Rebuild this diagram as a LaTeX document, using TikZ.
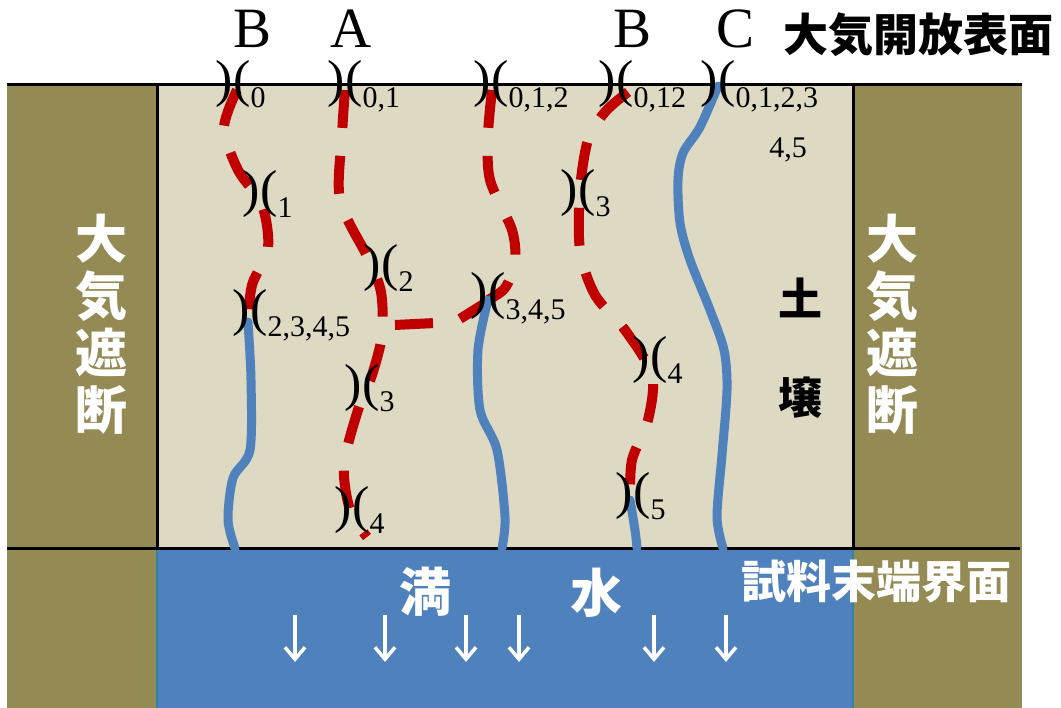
\documentclass[tikz,border=0pt]{standalone}
\usepackage{fontspec}
\setmainfont{Liberation Serif}
\newfontfamily\jp{Noto Sans CJK JP}
\usetikzlibrary{positioning,arrows.meta}
\definecolor{soilc}{HTML}{DDD9C3}
\definecolor{sealc}{HTML}{948A54}
\definecolor{waterc}{HTML}{4F81BD}
\definecolor{edgec}{HTML}{31859C}
\definecolor{crackc}{HTML}{C00000}
\tikzset{%
  crack/.style={inner sep=0pt,font=\fontsize{52}{52}\selectfont},
  idx/.style={inner sep=0pt,anchor=base west,font=\fontsize{30}{30}\selectfont},
  tag/.style={inner sep=0pt,font=\fontsize{57}{57}\selectfont},
  jbig/.style={inner sep=0pt,align=center,font=\jp\bfseries\fontsize{52}{57}\selectfont},
  jmid/.style={inner sep=0pt,font=\jp\bfseries\fontsize{45}{45}\selectfont},
  dry/.style={color=crackc,line width=10pt,dash pattern=on 38pt off 28pt},
  wet/.style={color=waterc,line width=9pt,line cap=round},
  wall/.style={line width=3pt},
  flow/.style={white,line width=3.5pt,-{Straight Barb[length=12pt,width=20pt]}}
}

\begin{document}
\begin{tikzpicture}[x=1pt,y=-1pt]
  \useasboundingbox (0,0) rectangle (1061,708);

  % column, seals and water bath
  \fill[sealc] (7,85) rectangle (157,708);
  \fill[sealc] (853,85) rectangle (1022,708);
  \fill[soilc] (157,85) rectangle (853,548);
  \fill[waterc] (157,548) rectangle (853,708);
  \draw[edgec,line width=1.5pt] (157,548) -- (157,708) (853,548) -- (853,708);
  \draw[wall] (7,85) -- (1022,85);
  \draw[wall] (7,548) -- (1020,548);
  \draw[wall] (157,85) -- (157,548);
  \draw[wall] (853,85) -- (853,548);

  % dry (dashed) and wetted (solid) crack paths
  \draw[dry] plot[smooth] coordinates {(237,90) (224,128) (238,170) (262,205) (268,248) (252,285) (248,322)};
  \draw[wet] plot[smooth] coordinates {(248,322) (251,380) (250,450) (233,478) (228,520) (235,548)};

  \draw[dry] plot[smooth] coordinates {(345,90) (342,135) (340,200) (368,258) (381,292) (382,335) (372,375) (358,410) (344,465) (350,510) (367,537)};
  \draw[dry] (395,325) -- (455,322) -- (490,300);

  \draw[dry] plot[smooth] coordinates {(492,90) (488,135) (490,180) (512,230) (515,262) (505,288) (488,300)};
  \draw[wet] plot[smooth] coordinates {(488,300) (478,350) (480,410) (497,450) (505,517) (502,548)};

  \draw[dry] plot[smooth] coordinates {(628,92) (605,112) (588,140) (580,190) (580,250) (595,295) (625,330) (652,375) (648,420) (632,460) (630,500)};
  \draw[wet] plot[smooth] coordinates {(630,500) (635,530) (637,548)};

  \draw[wet] plot[smooth] coordinates {(718,86) (700,127) (683,153) (678,180) (680,223) (690,260) (710,310) (724,350) (727,390) (722,455) (717,517) (723,548)};

  % crack marks with the steps they stay open
  \node[crack] (b0) at (233,84) {)(};
  \node[idx] (b0-i) at ([yshift=-11pt]b0.base east) {0};
  \node[crack] (a0) at (345,84) {)(};
  \node[idx] (a0-i) at ([yshift=-11pt]a0.base east) {0,1};
  \node[crack] (m0) at (491,84) {)(};
  \node[idx] (m0-i) at ([yshift=-11pt]m0.base east) {0,1,2};
  \node[crack] (p0) at (616,84) {)(};
  \node[idx] (p0-i) at ([yshift=-11pt]p0.base east) {0,12};
  \node[crack] (c0) at (718,84) {)(};
  \node[idx] (c0-i) at ([yshift=-11pt]c0.base east) {0,1,2,3};
  \node[idx,anchor=base] (c0-ii) at (788,158) {4,5};

  \node[crack] (b1) at (260,194) {)(};
  \node[idx] (b1-i) at ([yshift=-11pt]b1.base east) {1};
  \node[crack] (b2) at (250,313) {)(};
  \node[idx] (b2-i) at ([yshift=-11pt]b2.base east) {2,3,4,5};
  \node[crack] (a2) at (381,268) {)(};
  \node[idx] (a2-i) at ([yshift=-11pt]a2.base east) {2};
  \node[crack] (a3) at (362,388) {)(};
  \node[idx] (a3-i) at ([yshift=-11pt]a3.base east) {3};
  \node[crack] (a4) at (352,510) {)(};
  \node[idx] (a4-i) at ([yshift=-11pt]a4.base east) {4};
  \node[crack] (m3) at (488,296) {)(};
  \node[idx] (m3-i) at ([yshift=-11pt]m3.base east) {3,4,5};
  \node[crack] (p3) at (578,193) {)(};
  \node[idx] (p3-i) at ([yshift=-11pt]p3.base east) {3};
  \node[crack] (p4) at (650,360) {)(};
  \node[idx] (p4-i) at ([yshift=-11pt]p4.base east) {4};
  \node[crack] (p5) at (633,496) {)(};
  \node[idx] (p5-i) at ([yshift=-11pt]p5.base east) {5};

  % path types
  \node[tag] (tb1) at (253,29) {B};
  \node[tag] (ta) at (351,29) {A};
  \node[tag] (tb2) at (633,29) {B};
  \node[tag] (tc) at (736,29) {C};

  % labels
  \node[jmid] (open) at (918,35) {大気開放表面};
  \node[jbig,white] (sealL) at (101,324) {大\\気\\遮\\断};
  \node[jbig,white] (sealR) at (892,324) {大\\気\\遮\\断};
  \node[jmid,align=center,font=\jp\bfseries\fontsize{44}{99}\selectfont] (soil) at (800,348) {土\\壌};
  \node[jbig,white] (full) at (425,592) {満};
  \node[jbig,white] (water) at (596,593) {水};
  \node[jmid,white] (base) at (876,582) {試料末端界面};

  \foreach \x in {295,385,466,519,654,726}
    \draw[flow] (\x,615) -- (\x,662);
\end{tikzpicture}
\end{document}
